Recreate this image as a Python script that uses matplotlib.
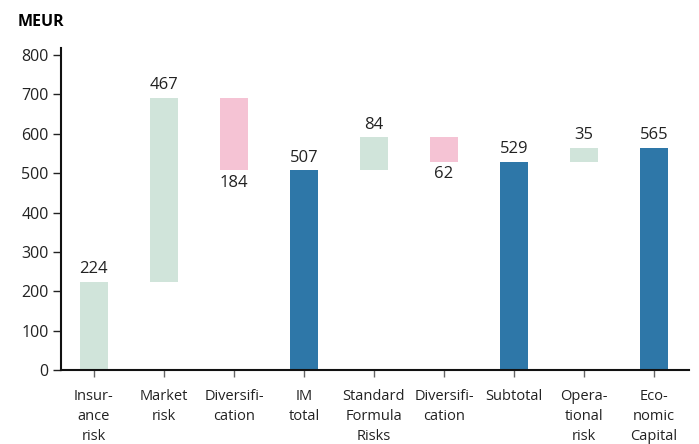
import matplotlib
matplotlib.use("Agg")
import matplotlib.pyplot as plt

# waterfall components, MEUR
categories = ["Insur-\nance\nrisk", "Market\nrisk", "Diversifi-\ncation", "IM\ntotal",
              "Standard\nFormula\nRisks", "Diversifi-\ncation", "Subtotal",
              "Opera-\ntional\nrisk", "Eco-\nnomic\nCapital"]
values = [224, 467, -184, 507, 84, -62, 529, 35, 565]
is_total = [False, False, False, True, False, False, True, False, True]

GREEN = "#d0e4da"
PINK = "#f5c3d4"
BLUE = "#2e77a8"

plt.rcParams["font.family"] = ["Open Sans", "DejaVu Sans"]

fig = plt.figure(figsize=(6.99, 4.44), dpi=100)
ax = fig.add_axes([0.0873, 0.1667, 0.8984, 0.7252])

running = 0
for i, (v, tot) in enumerate(zip(values, is_total)):
    if tot:
        bottom, height, color = 0, v, BLUE
        running = v
    else:
        bottom = running if v > 0 else running + v
        height = abs(v)
        color = GREEN if v > 0 else PINK
        running += v
    ax.bar(i, height, bottom=bottom, width=0.4, color=color)
    label = str(abs(v))
    if v > 0:
        ax.text(i, bottom + height + 12, label, ha="center", va="bottom", fontsize=12, color="#222222")
    else:
        ax.text(i, bottom - 12, label, ha="center", va="top", fontsize=12, color="#222222")

ax.set_xlim(-0.47, 8.5)
ax.set_ylim(0, 818)
ax.set_yticks(range(0, 801, 100))
ax.set_xticks(range(len(categories)))
ax.set_xticklabels(categories, fontsize=10.5, linespacing=1.45, color="#222222")
ax.tick_params(axis="y", labelsize=11.5, length=6, width=1, color="#222222", labelcolor="#222222", pad=3)
ax.tick_params(axis="x", length=5, width=1, color="#666666", pad=9)

for s in ["top", "right"]:
    ax.spines[s].set_visible(False)
ax.spines["left"].set_linewidth(1.5)
ax.spines["bottom"].set_linewidth(1.5)
ax.spines["left"].set_color("#111111")
ax.spines["bottom"].set_color("#111111")

fig.text(18 / 699, 1 - 22 / 444, "MEUR", fontsize=11.5, fontweight="bold", va="center", ha="left")

fig.savefig("out.png", dpi=100)
